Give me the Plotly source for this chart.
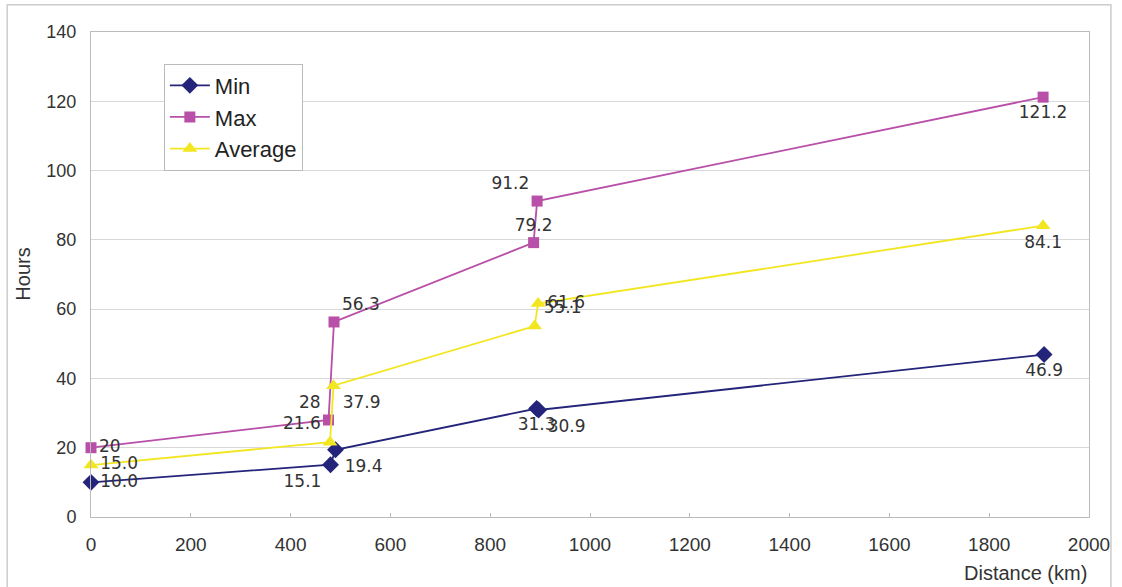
import plotly.graph_objects as go

# Data
min_x = [0, 480, 490, 893, 897, 1910]
min_y = [10.0, 15.1, 19.4, 31.3, 30.9, 46.9]
min_lbl = ["10.0", "15.1", "19.4", "31.3", "30.9", "46.9"]

max_x = [0, 476, 487, 887, 894, 1908]
max_y = [20, 28, 56.3, 79.2, 91.2, 121.2]
max_lbl = ["20", "28", "56.3", "79.2", "91.2", "121.2"]

avg_x = [0, 479, 486, 889, 896, 1908]
avg_y = [15.0, 21.6, 37.9, 55.1, 61.6, 84.1]
avg_lbl = ["15.0", "21.6", "37.9", "55.1", "61.6", "84.1"]

x_ticks = [0, 200, 400, 600, 800, 1000, 1200, 1400, 1600, 1800, 2000]
y_ticks = [0, 20, 40, 60, 80, 100, 120, 140]

min_pos = ["middle right", "bottom left", "bottom right", "bottom center", "bottom right", "bottom center"]
max_pos = ["middle right", "top left", "top right", "top center", "top left", "bottom center"]
avg_pos = ["middle right", "top left", "bottom right", "top right", "middle right", "bottom center"]

lbl_font = dict(family="DejaVu Sans", size=17, color="#333333")

fig = go.Figure()
fig.add_trace(go.Scatter(
    x=min_x, y=min_y, name="Min", mode="lines+markers+text",
    line=dict(color="#24247A", width=1.8),
    marker=dict(symbol="diamond", size=13, color="#24247A"),
    text=min_lbl, textposition=min_pos, textfont=lbl_font, cliponaxis=False))
fig.add_trace(go.Scatter(
    x=max_x, y=max_y, name="Max", mode="lines+markers+text",
    line=dict(color="#B84FA8", width=1.8),
    marker=dict(symbol="square", size=11, color="#B84FA8"),
    text=max_lbl, textposition=max_pos, textfont=lbl_font, cliponaxis=False))
fig.add_trace(go.Scatter(
    x=avg_x, y=avg_y, name="Average", mode="lines+markers+text",
    line=dict(color="#F2E620", width=1.8),
    marker=dict(symbol="triangle-up", size=13, color="#F2E620"),
    text=avg_lbl, textposition=avg_pos, textfont=lbl_font, cliponaxis=False))

fig.update_layout(
    width=1122, height=587,
    margin=dict(l=91, r=27, t=32, b=70),
    paper_bgcolor="white", plot_bgcolor="white",
    font=dict(family="Liberation Sans", size=18, color="#333333"),
    showlegend=True,
    legend=dict(x=0.073, y=0.935, xanchor="left", yanchor="top",
                bgcolor="white", bordercolor="#BBBBBB", borderwidth=1,
                font=dict(family="Liberation Sans", size=22, color="#222222"),
                itemwidth=40, tracegroupgap=0),
    hovermode=False,
    xaxis=dict(range=[0, 2000], tickvals=x_ticks, showgrid=False, zeroline=False,
               showline=True, linecolor="#BBBBBB", mirror=True, ticks="inside",
               tickcolor="#BBBBBB", ticklen=4, ticklabelstandoff=10,
               tickfont=dict(size=19, color="#333333")),
    yaxis=dict(range=[0, 140], tickvals=y_ticks, showgrid=True, gridcolor="#D8D8D8",
               zeroline=False, showline=True, linecolor="#BBBBBB", mirror=True,
               tickfont=dict(size=18, color="#333333"), ticks="", ticklabelstandoff=10),
    annotations=[
        dict(text="Distance (km)", xref="paper", yref="paper", x=1.0, y=-0.088,
             xanchor="right", yanchor="top", showarrow=False,
             font=dict(size=20, color="#333333")),
        dict(text="Hours", xref="paper", yref="paper", x=-0.069, y=0.5,
             xanchor="center", yanchor="middle", textangle=-90, showarrow=False,
             font=dict(size=20, color="#333333")),
    ],
    shapes=[
        dict(type="rect", xref="paper", yref="paper", x0=-0.084, x1=1.022,
             y0=-0.2, y1=1.056, line=dict(color="#CCCCCC", width=1.5), layer="below"),
    ],
)

fig.write_html("out.html", config={"displayModeBar": False},
               post_script="document.body.style.margin='0px';")
